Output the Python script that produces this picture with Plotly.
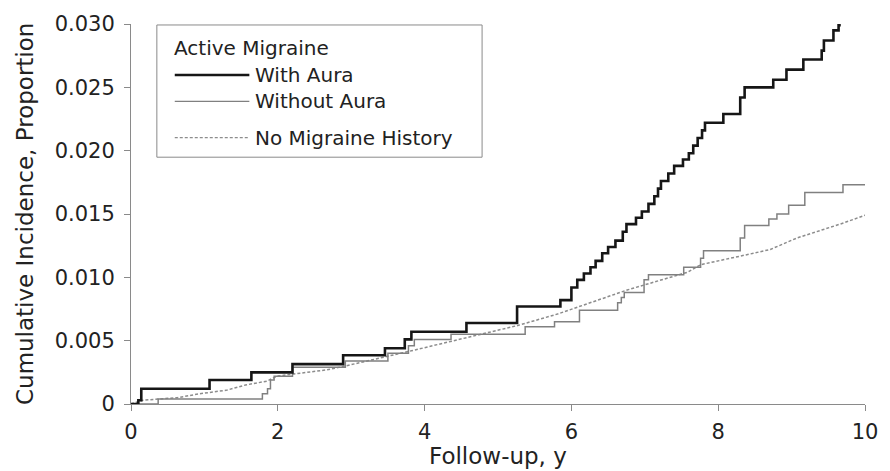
import plotly.graph_objects as go

# ---------------- data ----------------
with_aura_t = [0, 0.10, 0.14, 1.07, 1.64, 2.20, 2.89, 3.46, 3.73, 3.82, 4.57, 5.26,
               5.85, 6.00, 6.08, 6.17, 6.26, 6.33, 6.42, 6.50, 6.60, 6.70, 6.75, 6.88,
               6.96, 7.05, 7.13, 7.18, 7.22, 7.32, 7.40, 7.52, 7.60, 7.66, 7.72, 7.78,
               7.82, 8.07, 8.30, 8.36, 8.75, 8.93, 9.16, 9.41, 9.44, 9.57, 9.64, 9.67]
with_aura_v = [0, 0.0003, 0.0012, 0.0019, 0.0025, 0.00315, 0.00385, 0.0044, 0.0051, 0.0057, 0.0064, 0.0077,
               0.0082, 0.0092, 0.0098, 0.0103, 0.0108, 0.0113, 0.0119, 0.0124, 0.0129, 0.0136, 0.0142, 0.0147,
               0.0152, 0.0158, 0.0164, 0.0170, 0.0176, 0.0182, 0.0188, 0.0193, 0.0198, 0.0204, 0.0210, 0.0216,
               0.0222, 0.0229, 0.0242, 0.0250, 0.0256, 0.0264, 0.0272, 0.0279, 0.0287, 0.0295, 0.0299, 0.0299]

without_aura_t = [0, 0.37, 1.79, 1.86, 1.90, 1.95, 2.20, 2.92, 3.50, 3.78, 3.86, 4.36, 5.37,
                  5.77, 6.11, 6.63, 6.68, 6.72, 6.99, 7.05, 7.53, 7.76, 7.80, 8.30, 8.36,
                  8.69, 8.80, 8.96, 9.18, 9.70, 10.0]
without_aura_v = [0, 0.0004, 0.0008, 0.0012, 0.0019, 0.0022, 0.0029, 0.0034, 0.0040, 0.0046, 0.0051, 0.0055, 0.0061,
                  0.0065, 0.0074, 0.0080, 0.0084, 0.0088, 0.0098, 0.0102, 0.0108, 0.0115, 0.0121, 0.0131, 0.0141,
                  0.0146, 0.0150, 0.0157, 0.0167, 0.0173, 0.0173]

no_migraine_t = [0, 0.16, 0.63, 0.93, 1.31, 1.56, 1.85, 1.99, 2.67, 2.92, 3.82, 4.55, 5.27,
                 5.81, 6.76, 7.58, 7.76, 8.48, 8.71, 9.07, 9.66, 10.0]
no_migraine_v = [0, 0.0003, 0.0005, 0.0008, 0.0011, 0.0015, 0.0018, 0.0022, 0.0027, 0.0030, 0.0042, 0.0052, 0.0062,
                 0.0071, 0.0090, 0.0104, 0.0110, 0.0119, 0.0122, 0.0131, 0.0142, 0.0149]

x_ticks = [0, 2, 4, 6, 8, 10]
y_ticks = [0, 0.005, 0.010, 0.015, 0.020, 0.025, 0.030]
y_tick_labels = ["0", "0.005", "0.010", "0.015", "0.020", "0.025", "0.030"]

legend_title = "Active Migraine"
legend_labels = ["With Aura", "Without Aura", "No Migraine History"]

# ---------------- styling ----------------
FONT = "DejaVu Sans"
TXT = "#222222"
AX = "#8a8a8a"
C_WITH = "#161616"
C_WITHOUT = "#808080"
C_NONE = "#8c8c8c"

W, H = 890, 471
ML, MR, MT, MB = 131, 21, 16, 67
PW, PH = W - ML - MR, H - MT - MB


def px_x(p):
    return (p - ML) / PW


def px_y(p):
    return (H - MB - p) / PH


fig = go.Figure()
fig.add_trace(go.Scatter(x=no_migraine_t, y=no_migraine_v, mode="lines",
                         line=dict(color=C_NONE, width=1.5, dash="3px,2px"),
                         showlegend=False, hoverinfo="skip"))
fig.add_trace(go.Scatter(x=without_aura_t, y=without_aura_v, mode="lines",
                         line=dict(color=C_WITHOUT, width=1.5, shape="hv"),
                         showlegend=False, hoverinfo="skip"))
fig.add_trace(go.Scatter(x=with_aura_t, y=with_aura_v, mode="lines",
                         line=dict(color=C_WITH, width=2.6, shape="hv"),
                         showlegend=False, hoverinfo="skip"))

axis_common = dict(showline=True, linecolor=AX, linewidth=1, ticks="outside",
                   ticklen=6, tickcolor=AX, tickwidth=1, showgrid=False, zeroline=False,
                   tickfont=dict(family=FONT, size=21, color=TXT))

fig.update_layout(
    width=W, height=H,
    margin=dict(l=ML, r=MR, t=MT, b=MB, pad=0),
    paper_bgcolor="white", plot_bgcolor="white",
    xaxis=dict(range=[0, 10], tickvals=x_ticks, ticktext=[str(v) for v in x_ticks],
               ticklabelstandoff=3, **axis_common),
    yaxis=dict(range=[0, 0.030], tickvals=y_ticks, ticktext=y_tick_labels,
               ticklabelstandoff=5, **axis_common),
    showlegend=False,
)

# axis titles
fig.add_annotation(text="Follow-up, y", xref="paper", yref="paper", x=0.5, y=0,
                   xanchor="center", yanchor="middle", yshift=-52, showarrow=False,
                   font=dict(family=FONT, size=23, color=TXT))
fig.add_annotation(text="Cumulative Incidence, Proportion", xref="paper", yref="paper",
                   x=0, y=0.5, xanchor="center", yanchor="middle", xshift=-106,
                   textangle=-90, showarrow=False,
                   font=dict(family=FONT, size=23, color=TXT))

# manual legend (long line samples as in reference)
fig.add_shape(type="rect", xref="paper", yref="paper",
              x0=px_x(157), x1=px_x(484), y0=px_y(152), y1=px_y(17),
              line=dict(color=AX, width=1), fillcolor="white", layer="above")
fig.add_annotation(text=legend_title, xref="paper", yref="paper", x=px_x(172), y=px_y(40),
                   xanchor="left", yanchor="middle", showarrow=False,
                   font=dict(family=FONT, size=20, color=TXT))
leg_styles = [
    (68, dict(color=C_WITH, width=2.4)),
    (95, dict(color=C_WITHOUT, width=1.4)),
    (132, dict(color=C_NONE, width=1.3, dash="3px,2px")),
]
for label, (py, st) in zip(legend_labels, leg_styles):
    fig.add_shape(type="line", xref="paper", yref="paper",
                  x0=px_x(175), x1=px_x(250), y0=px_y(py), y1=px_y(py),
                  line=st, layer="above")
    fig.add_annotation(text=label, xref="paper", yref="paper", x=px_x(254), y=px_y(py),
                       xanchor="left", yanchor="middle", showarrow=False,
                       font=dict(family=FONT, size=20, color=TXT))

fig.write_html("out.html", config={"displayModeBar": False},
               post_script="document.body.style.margin='0';")
